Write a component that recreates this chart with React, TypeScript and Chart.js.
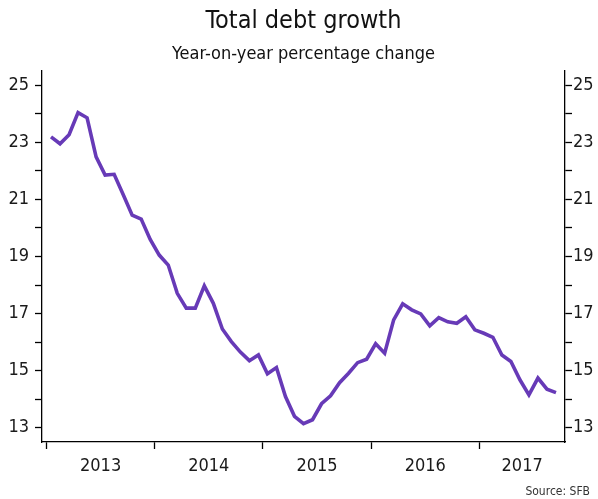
import { useEffect, useRef } from 'react';
import { Chart, registerables } from 'chart.js';

Chart.register(...registerables);

const FONT = "'Liberation Sans Narrow', 'DejaVu Sans Condensed', 'Arial Narrow', sans-serif";

const titleText = 'Total debt growth';
const subtitleText = 'Year-on-year percentage change';
const sourceText = 'Source: SFB';

const yearLabels = ['2013', '2014', '2015', '2016', '2017'];
const yTicks = [13, 14, 15, 16, 17, 18, 19, 20, 21, 22, 23, 24, 25];
const yLabelled = [13, 15, 17, 19, 21, 23, 25];

// Monthly year-on-year growth, Jan 2013 .. Sep 2017
const debtGrowth = [
  23.19, 22.95, 23.27, 24.04, 23.86, 22.49, 21.85, 21.88, 21.17, 20.45, 20.31, 19.6,
  19.05, 18.7, 17.71, 17.19, 17.19, 17.97, 17.36, 16.46, 16.02, 15.65, 15.35, 15.55,
  14.89, 15.11, 14.09, 13.4, 13.14, 13.28, 13.84, 14.12, 14.58, 14.91, 15.28, 15.4,
  15.94, 15.61, 16.78, 17.34, 17.13, 16.99, 16.57, 16.86, 16.71, 16.66, 16.89, 16.43,
  16.31, 16.17, 15.55, 15.32, 14.68, 14.15, 14.74, 14.35, 14.23,
];

const X_MIN = -0.5;
const X_MAX = 57.5;

export default function App() {
  const ref = useRef<HTMLCanvasElement>(null);

  useEffect(() => {
    const canvas = ref.current;
    if (!canvas) return;

    const points = debtGrowth.map((v, i) => ({ x: i + 0.5, y: v }));
    const yearStarts = yearLabels.map((_, i) => i * 12);
    const yearCenters = yearLabels.map((_, i) => {
      const s = Math.max(i * 12, X_MIN);
      const e = Math.min((i + 1) * 12, X_MAX);
      return (s + e) / 2;
    });
    const xTickValues = [...yearStarts, ...yearCenters].sort((a, b) => a - b);

    const sourcePlugin = {
      id: 'sourceNote',
      afterDraw(chart: any) {
        const ctx = chart.ctx;
        ctx.save();
        ctx.font = `12px ${FONT}`;
        ctx.fillStyle = '#333';
        ctx.textAlign = 'right';
        ctx.textBaseline = 'middle';
        ctx.fillText(sourceText, 590, 492);
        ctx.restore();
      },
    };

    const yAxis = (position: 'left' | 'right', padding: number, width: number) => ({
      type: 'linear' as const,
      position,
      min: 12.5,
      max: 25.5,
      afterBuildTicks: (s: any) => {
        s.ticks = yTicks.map((v) => ({ value: v }));
      },
      ticks: {
        autoSkip: false,
        padding,
        color: '#1a1a1a',
        font: { family: FONT, size: 18 },
        callback: (v: any) => (yLabelled.includes(Number(v)) ? String(v) : ''),
      },
      grid: { drawOnChartArea: false, tickLength: 7, tickColor: '#000', tickWidth: 1.3 },
      border: { color: '#000', width: 1.3 },
      afterFit: (s: any) => {
        s.width = width;
      },
    });

    const chart = new Chart(canvas, {
      type: 'line',
      data: {
        datasets: [
          {
            data: points,
            borderColor: '#673ab7',
            borderWidth: 3.6,
            pointRadius: 0,
            tension: 0,
            fill: false,
            yAxisID: 'y',
          },
        ],
      },
      options: {
        responsive: false,
        animation: false,
        devicePixelRatio: 1,
        layout: { padding: 0 },
        plugins: {
          legend: { display: false },
          tooltip: { enabled: false },
          title: {
            display: true,
            text: titleText,
            fullSize: false,
            color: '#111',
            font: { family: FONT, size: 25, weight: 'normal' },
            padding: { top: 6, bottom: 8 },
          },
          subtitle: {
            display: true,
            text: subtitleText,
            fullSize: false,
            color: '#111',
            font: { family: FONT, size: 18, weight: 'normal' },
            padding: { top: 0, bottom: 5.4 },
          },
        },
        scales: {
          x: {
            type: 'linear',
            min: X_MIN,
            max: X_MAX,
            afterBuildTicks: (s: any) => {
              s.ticks = xTickValues.map((v) => ({ value: v }));
            },
            ticks: {
              autoSkip: false,
              maxRotation: 0,
              padding: 7,
              color: '#1a1a1a',
              font: { family: FONT, size: 18 },
              callback: (v: any) => {
                const idx = yearCenters.indexOf(Number(v));
                return idx >= 0 ? yearLabels[idx] : '';
              },
            },
            grid: {
              drawOnChartArea: false,
              tickLength: 7,
              tickWidth: 1.3,
              tickColor: (ctx: any) =>
                ctx.tick && yearStarts.includes(ctx.tick.value) ? '#000' : 'rgba(0,0,0,0)',
            },
            border: { color: '#000', width: 1.3 },
            afterFit: (s: any) => {
              s.height = 57;
            },
          },
          y: yAxis('left', 6, 42),
          y2: yAxis('right', 1, 33),
        },
      },
      plugins: [sourcePlugin],
    });

    return () => chart.destroy();
  }, []);

  return (
    <div style={{ position: 'fixed', left: 0, top: 0, width: 598, height: 499, background: '#fff' }}>
      <canvas ref={ref} width={598} height={499} style={{ display: 'block' }} />
    </div>
  );
}
